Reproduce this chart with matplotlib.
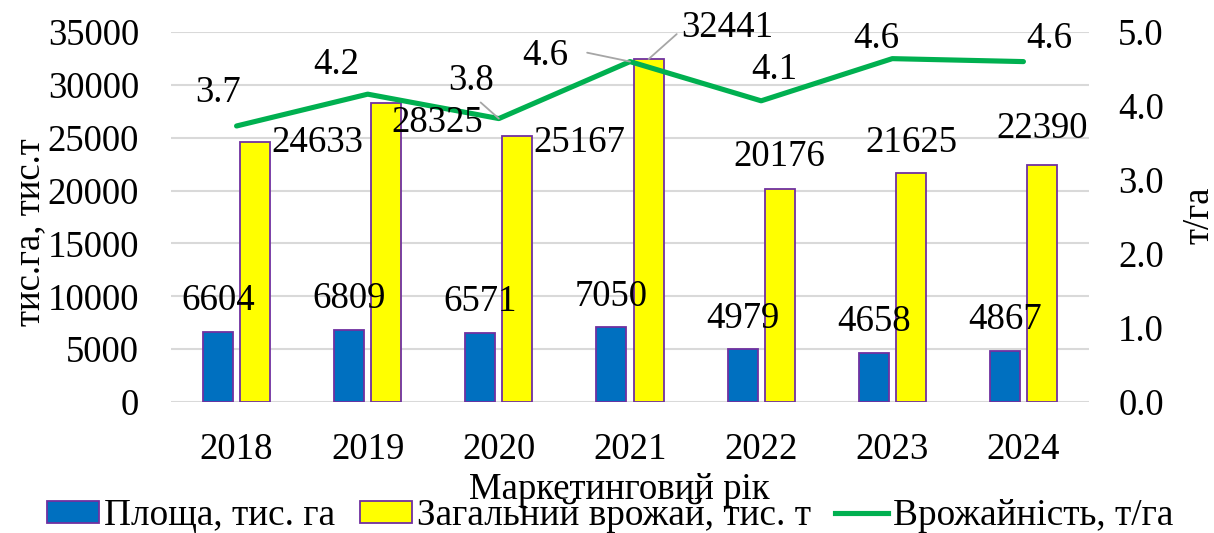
import numpy as np
import matplotlib
matplotlib.use("Agg")
from matplotlib import pyplot as plt
from matplotlib.patches import Patch
from matplotlib.lines import Line2D

plt.rcParams['font.family'] = ['Liberation Serif', 'DejaVu Serif']

# дані
years = ["2018", "2019", "2020", "2021", "2022", "2023", "2024"]
area = [6604, 6809, 6571, 7050, 4979, 4658, 4867]
harvest = [24633, 28325, 25167, 32441, 20176, 21625, 22390]
yields = [3.73, 4.16, 3.83, 4.60, 4.07, 4.64, 4.60]

# зміщення підписів (пікселі)
area_off = [(0, 31)] * 7
harvest_off = [(62, -1), (51, -20), (62, -7), (79, 31), (0, 32), (0, 31), (0, 37)]
yield_off = [(-19, 33), (-31, 29), (-28, 38), (-85, 6), (13, 31), (-16, 20), (26, 23)]

fs = 26.5
blue = "#0070C0"
yellow = "#FFFF00"
purple = "#7030A0"
green = "#00B050"
grid_c = "#D9D9D9"

fig = plt.figure(figsize=(12.14, 5.33), dpi=100)
ax1 = fig.add_axes([171 / 1214, 1 - 402 / 533, (1089 - 171) / 1214, (402 - 32) / 533])
ax2 = ax1.twinx()

x = np.arange(len(years))
w = 0.229
off = 0.142
ax1.bar(x - off, area, w, color=blue, edgecolor=purple, linewidth=1.3, zorder=3)
ax1.bar(x + off, harvest, w, color=yellow, edgecolor=purple, linewidth=1.3, zorder=3)
ax2.plot(x, yields, color=green, linewidth=3.7, solid_capstyle='round', zorder=3)

ax1.set_xlim(-0.5, len(years) - 0.5)
ax1.set_ylim(0, 35000)
ax1.set_yticks(range(0, 35001, 5000))
ax2.set_ylim(0, 5)
ax2.set_yticks(np.arange(0, 5.01, 1.0))
ax2.set_yticklabels(["%.1f" % v for v in np.arange(0, 5.01, 1.0)])
ax1.set_xticks(x)
ax1.set_xticklabels(years)

ax1.grid(axis='y', color=grid_c, linewidth=1.5, zorder=0)
ax1.set_axisbelow(True)
for a in (ax1, ax2):
    for s in a.spines.values():
        s.set_visible(False)
ax1.tick_params(axis='y', length=0, pad=23, labelsize=fs)
ax1.tick_params(axis='x', length=0, pad=22, labelsize=fs)
ax2.tick_params(axis='y', length=0, pad=21, labelsize=fs)

leader = dict(arrowstyle='-', color='#A6A6A6', lw=1.3, shrinkB=0)

# підписи площі
for i, v in enumerate(area):
    ax2.annotate(str(v), xy=(x[i] - off, v), xycoords=ax1.transData,
                 xytext=area_off[i], textcoords='offset pixels',
                 ha='center', va='center', fontsize=fs, zorder=5)

# підписи врожаю
for i, v in enumerate(harvest):
    kw = {}
    if i == 3:
        kw['arrowprops'] = dict(leader, shrinkA=2, relpos=(0, 0.45))
    ax2.annotate(str(v), xy=(x[i] + off, v), xycoords=ax1.transData,
                 xytext=harvest_off[i], textcoords='offset pixels',
                 ha='center', va='center', fontsize=fs, zorder=5, **kw)

# підписи врожайності
for i, v in enumerate(yields):
    kw = {}
    if i == 2:
        kw['arrowprops'] = dict(leader, shrinkA=2, relpos=(0.6, 0))
    if i == 3:
        kw['arrowprops'] = dict(leader, shrinkA=12, relpos=(1, 0.7))
    ax2.annotate("%.1f" % v, xy=(x[i], v),
                 xytext=yield_off[i], textcoords='offset pixels',
                 ha='center', va='center', fontsize=fs, zorder=5, **kw)

fig.text(30 / 1214, 1 - 232 / 533, "тис.га, тис.т", rotation=90,
         ha='center', va='center', fontsize=fs)
fig.text(1199 / 1214, 1 - 215 / 533, "т/га", rotation=90,
         ha='center', va='center', fontsize=fs)
fig.text(619 / 1214, 1 - 490 / 533, "Маркетинговий рік",
         ha='center', va='center', fontsize=fs)

handles = [
    Patch(facecolor=blue, edgecolor=purple, linewidth=1.3),
    Patch(facecolor=yellow, edgecolor=purple, linewidth=1.3),
    Line2D([], [], color=green, linewidth=3.7),
]
labels = ["Площа, тис. га", "Загальний врожай, тис. т", "Врожайність, т/га"]
fig.legend(handles, labels, loc='center', bbox_to_anchor=(610 / 1214, 1 - 516 / 533),
           ncol=3, frameon=False, fontsize=26.8, handlelength=1.4, handleheight=0.55,
           handletextpad=0.15, columnspacing=0.65, borderpad=0, borderaxespad=0)

fig.savefig("out.png", dpi=100)
